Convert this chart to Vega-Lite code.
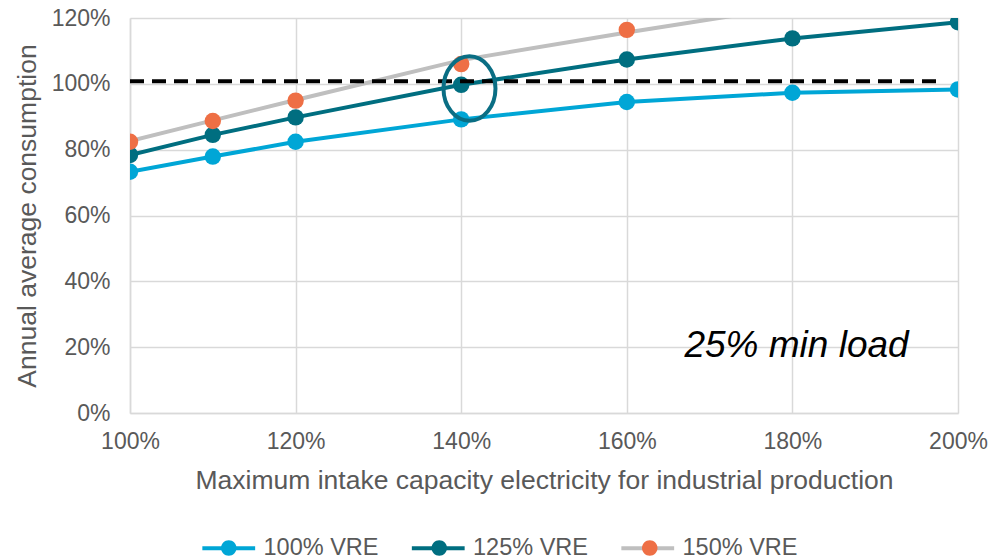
{
  "$schema": "https://vega.github.io/schema/vega-lite/v6.json",
  "width": 828,
  "height": 395,
  "autosize": {"type": "none"},
  "padding": {"left": 130, "top": 18, "right": 34, "bottom": 147},
  "background": "white",
  "config": {
    "font": "Liberation Sans",
    "view": {"stroke": null},
    "axis": {
      "gridColor": "#D9D9D9",
      "gridWidth": 1.5,
      "domainColor": "#D9D9D9",
      "domainWidth": 1.5,
      "ticks": false,
      "labelColor": "#595959",
      "labelFontSize": 23,
      "labelFont": "Liberation Sans",
      "labelFlush": false,
      "titleColor": "#595959",
      "titleFontSize": 26.5,
      "titleFont": "Liberation Sans",
      "titleFontWeight": "normal"
    },
    "legend": {
      "orient": "none",
      "legendX": 87,
      "legendY": 518,
      "direction": "horizontal",
      "padding": 0,
      "symbolSize": 256,
      "symbolStrokeWidth": 4,
      "labelFont": "Liberation Sans",
      "labelFontSize": 23.5,
      "labelColor": "#595959",
      "labelOffset": 23
    }
  },
  "datasets": {
    "vre": [
      {"x": 1.0, "series": "100% VRE", "line": 0.733, "marker": 0.733},
      {"x": 1.1, "series": "100% VRE", "line": 0.779, "marker": 0.779},
      {"x": 1.2, "series": "100% VRE", "line": 0.824, "marker": 0.824},
      {"x": 1.4, "series": "100% VRE", "line": 0.892, "marker": 0.892},
      {"x": 1.6, "series": "100% VRE", "line": 0.945, "marker": 0.945},
      {"x": 1.8, "series": "100% VRE", "line": 0.973, "marker": 0.973},
      {"x": 2.0, "series": "100% VRE", "line": 0.983, "marker": 0.983},
      {"x": 1.0, "series": "125% VRE", "line": 0.784, "marker": 0.784},
      {"x": 1.1, "series": "125% VRE", "line": 0.845, "marker": 0.845},
      {"x": 1.2, "series": "125% VRE", "line": 0.898, "marker": 0.898},
      {"x": 1.4, "series": "125% VRE", "line": 0.997, "marker": 0.997},
      {"x": 1.6, "series": "125% VRE", "line": 1.074, "marker": 1.074},
      {"x": 1.8, "series": "125% VRE", "line": 1.138, "marker": 1.138},
      {"x": 2.0, "series": "125% VRE", "line": 1.187, "marker": 1.187},
      {"x": 1.0, "series": "150% VRE", "line": 0.826, "marker": 0.824},
      {"x": 1.1, "series": "150% VRE", "line": 0.889, "marker": 0.887},
      {"x": 1.2, "series": "150% VRE", "line": 0.951, "marker": 0.949},
      {"x": 1.4, "series": "150% VRE", "line": 1.072, "marker": 1.06},
      {"x": 1.6, "series": "150% VRE", "line": 1.156, "marker": 1.164},
      {"x": 1.8, "series": "150% VRE", "line": 1.235, "marker": null},
      {"x": 2.0, "series": "150% VRE", "line": 1.31, "marker": null}
    ]
  },
  "layer": [
    {
      "data": {"name": "vre"},
      "mark": {"type": "line", "clip": true},
      "encoding": {
        "x": {
          "field": "x",
          "type": "quantitative",
          "scale": {"domain": [1, 2], "nice": false, "zero": false},
          "axis": {
            "values": [1, 1.2, 1.4, 1.6, 1.8, 2],
            "format": ".0%",
            "labelPadding": 17,
            "titlePadding": 14,
            "title": "Maximum intake capacity electricity for industrial production"
          }
        },
        "y": {
          "field": "line",
          "type": "quantitative",
          "scale": {"domain": [0, 1.2], "nice": false},
          "axis": {
            "values": [0, 0.2, 0.4, 0.6, 0.8, 1, 1.2],
            "format": ".0%",
            "labelPadding": 20,
            "titlePadding": 10,
            "title": "Annual average consumption"
          }
        },
        "stroke": {
          "field": "series",
          "type": "nominal",
          "scale": {
            "domain": ["100% VRE", "125% VRE", "150% VRE"],
            "range": ["#00A6D6", "#006E80", "#BFBFBF"]
          },
          "legend": {
            "title": null,
            "symbolType": "M -3.3 0 L 3.3 0",
            "columnPadding": 24.5
          }
        },
        "strokeWidth": {
          "field": "series",
          "type": "nominal",
          "scale": {"domain": ["100% VRE", "125% VRE", "150% VRE"], "range": [4, 4, 5.5]},
          "legend": null
        }
      }
    },
    {
      "data": {"name": "vre"},
      "mark": {"type": "point", "filled": true, "clip": true, "size": 270, "opacity": 1},
      "encoding": {
        "x": {"field": "x", "type": "quantitative"},
        "y": {"field": "marker", "type": "quantitative"},
        "fill": {
          "field": "series",
          "type": "nominal",
          "scale": {"range": ["#00A6D6", "#006E80", "#EE6F45"]},
          "legend": {
            "title": null,
            "symbolType": "M -3.3 0 M 3.3 0 M 0.97 0 A 0.97 0.97 0 1 1 -0.97 0 A 0.97 0.97 0 1 1 0.97 0 Z",
            "symbolStrokeColor": "transparent",
            "labelExpr": "''",
            "columnPadding": 140.5
          }
        }
      }
    },
    {
      "data": {"values": [{}]},
      "mark": {"type": "rule", "stroke": "#000000", "strokeWidth": 4, "strokeDash": [14, 8]},
      "encoding": {
        "x": {"datum": 1.0},
        "x2": {"datum": 1.98},
        "y": {"datum": 1.008}
      }
    },
    {
      "data": {"values": [{}]},
      "mark": {
        "type": "point",
        "shape": "M -0.806 0 A 0.806 1 0 1 1 0.806 0 A 0.806 1 0 1 1 -0.806 0 Z",
        "size": 4160,
        "filled": false,
        "stroke": "#0A6E84",
        "strokeWidth": 4,
        "opacity": 1
      },
      "encoding": {
        "x": {"datum": 1.41},
        "y": {"datum": 0.986}
      }
    },
    {
      "data": {"values": [{}]},
      "mark": {
        "type": "text",
        "font": "Liberation Sans",
        "fontStyle": "italic",
        "fontSize": 37,
        "color": "#000000",
        "align": "center",
        "baseline": "alphabetic"
      },
      "encoding": {
        "x": {"datum": 1.805},
        "y": {"datum": 0.171},
        "text": {"value": "25% min load"}
      }
    }
  ]
}
